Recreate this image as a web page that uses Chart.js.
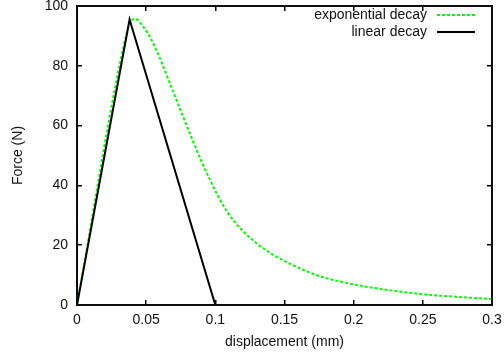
<!DOCTYPE html>
<html>
<head>
<meta charset="utf-8">
<script src="https://cdn.jsdelivr.net/npm/chart.js@4/dist/chart.umd.min.js"></script>
<style>
  html, body { margin: 0; padding: 0; background: #fff; }
  #wrap { position: relative; width: 504px; height: 358px; }
  canvas { display: block; }
  #frame { position: absolute; border: 1.5px solid #111; box-sizing: border-box; pointer-events: none; }
</style>
</head>
<body>
<div id="wrap">
  <canvas id="forceChart" width="504" height="358"></canvas>
  <div id="frame"></div>
</div>
<script>
// values
const expDisp = [0, 0.036, 0.039, 0.042, 0.048, 0.054, 0.060, 0.066, 0.072, 0.078, 0.084, 0.090, 0.096,
  0.102, 0.108, 0.114, 0.120, 0.130, 0.140, 0.150, 0.160, 0.175, 0.200, 0.225, 0.250, 0.275, 0.300];
const expForce = [0, 91.0, 94.8, 95.7, 93.0, 88.5, 82.5, 75.5, 68.5, 61.5, 54.6, 48.0, 42.0,
  36.4, 31.6, 27.8, 24.7, 20.6, 17.3, 14.7, 12.5, 9.7, 6.9, 5.0, 3.6, 2.7, 2.0];

const linDisp = [0, 0.038, 0.1];
const linForce = [0, 95.5, 0];

const xTicks = [0, 0.05, 0.1, 0.15, 0.2, 0.25, 0.3];
const yTicks = [0, 20, 40, 60, 80, 100];

const toPoints = (xs, ys) => xs.map((x, i) => ({ x: x, y: ys[i] }));

Chart.defaults.font.family = "'Liberation Sans', Arial, Helvetica, sans-serif";
Chart.defaults.font.size = 14;
Chart.defaults.color = "#111";

// gnuplot style legend: text right aligned, line sample to the right
const gnuLegend = {
  id: "gnuLegend",
  afterDraw(chart) {
    const ctx = chart.ctx;
    const a = chart.chartArea;
    ctx.save();
    ctx.strokeStyle = "#111111";
    ctx.lineWidth = 1.5;
    ctx.strokeRect(a.left, a.top, a.right - a.left, a.bottom - a.top);
    ctx.font = "14px 'Liberation Sans', Arial, sans-serif";
    ctx.textAlign = "right";
    ctx.textBaseline = "middle";
    chart.data.datasets.forEach((ds, i) => {
      const y = 15 + i * 17;
      ctx.fillStyle = "#111";
      ctx.fillText(ds.label, 427, y);
      ctx.beginPath();
      ctx.strokeStyle = ds.borderColor;
      ctx.lineWidth = ds.borderWidth;
      ctx.setLineDash(ds.borderDash || []);
      ctx.moveTo(437, y);
      ctx.lineTo(475, y);
      ctx.stroke();
    });
    ctx.restore();
  }
};

const fmt = v => String(+Number(v).toFixed(2));

// inward tick marks and a black frame line on every side
const frameGrid = { display: true, drawOnChartArea: false, drawTicks: true, tickLength: -5, color: "#000", lineWidth: 1.5 };
const frameBorder = { display: true, color: "#000", width: 2 };

const chart = new Chart(document.getElementById("forceChart"), {
  type: "scatter",
  data: {
    datasets: [
      {
        label: "exponential decay",
        data: toPoints(expDisp, expForce),
        showLine: true,
        borderColor: "#00ff00",
        borderWidth: 2,
        borderDash: [3, 2],
        pointRadius: 0,
        cubicInterpolationMode: "monotone",
        order: 1
      },
      {
        label: "linear decay",
        data: toPoints(linDisp, linForce),
        showLine: true,
        borderColor: "#000000",
        borderWidth: 2,
        pointRadius: 0,
        order: 0
      }
    ]
  },
  options: {
    responsive: false,
    animation: false,
    layout: { padding: { top: 6, right: 12, left: 0, bottom: 0 } },
    plugins: { legend: { display: false }, tooltip: { enabled: false } },
    scales: {
      x: {
        type: "linear",
        min: 0,
        max: 0.3,
        afterBuildTicks: s => { s.ticks = xTicks.map(v => ({ value: v })); },
        afterFit: s => { s.height = 53; s.paddingLeft = 0; s.paddingRight = 0; },
        grid: frameGrid,
        border: frameBorder,
        ticks: { padding: 12, maxRotation: 0, autoSkip: false, callback: fmt },
        title: { display: true, text: "displacement (mm)", padding: { top: 0, bottom: 7 } }
      },
      x2: {
        type: "linear",
        position: "top",
        min: 0,
        max: 0.3,
        afterBuildTicks: s => { s.ticks = xTicks.map(v => ({ value: v })); },
        afterFit: s => { s.height = 0; s.paddingLeft = 0; s.paddingRight = 0; },
        grid: frameGrid,
        border: frameBorder,
        ticks: { display: false }
      },
      y: {
        type: "linear",
        min: 0,
        max: 100,
        afterBuildTicks: s => { s.ticks = yTicks.map(v => ({ value: v })); },
        afterFit: s => { s.width = 77; s.paddingTop = 0; s.paddingBottom = 0; },
        grid: frameGrid,
        border: frameBorder,
        ticks: { padding: 14, autoSkip: false, callback: fmt },
        title: { display: true, text: "Force (N)", padding: { top: 10, bottom: 0 } }
      },
      y2: {
        type: "linear",
        position: "right",
        min: 0,
        max: 100,
        afterBuildTicks: s => { s.ticks = yTicks.map(v => ({ value: v })); },
        afterFit: s => { s.width = 0; s.paddingTop = 0; s.paddingBottom = 0; },
        grid: frameGrid,
        border: frameBorder,
        ticks: { display: false }
      }
    }
  },
  plugins: [gnuLegend]
});

// place the frame box over the chart area the library computed
const area = chart.chartArea;
const frame = document.getElementById("frame");
frame.style.left = (area.left - 1) + "px";
frame.style.top = (area.top - 1) + "px";
frame.style.width = (area.right - area.left + 2) + "px";
frame.style.height = (area.bottom - area.top + 2) + "px";
</script>
</body>
</html>
